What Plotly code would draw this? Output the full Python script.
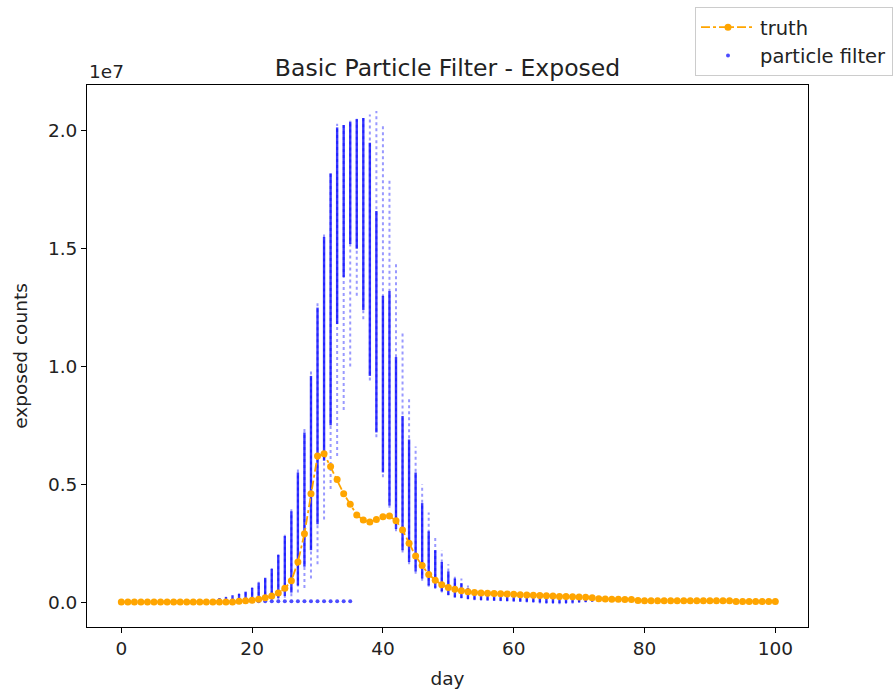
import plotly.graph_objects as go

# ---------------- data (values in units of 1e7) ----------------
truth_days = list(range(0, 101))
truth_vals = ([0.0] * 18 +
              [0.003, 0.005, 0.008, 0.012, 0.018, 0.026, 0.038, 0.058, 0.090, 0.170,
               0.290, 0.460, 0.620, 0.630, 0.575, 0.520, 0.460, 0.415, 0.370, 0.348,
               0.340, 0.350, 0.362, 0.365, 0.345, 0.306, 0.250, 0.195, 0.155, 0.117,
               0.093, 0.073, 0.062, 0.054, 0.048, 0.044, 0.040, 0.038, 0.037, 0.036,
               0.035, 0.034, 0.033, 0.031, 0.030, 0.029, 0.028, 0.027, 0.026, 0.024,
               0.023, 0.022, 0.021, 0.020, 0.018, 0.014, 0.013, 0.012, 0.012, 0.011,
               0.011, 0.006, 0.005, 0.005, 0.005, 0.005, 0.005, 0.005, 0.005, 0.005,
               0.005, 0.005, 0.005, 0.005, 0.005, 0.005, 0.002, 0.002, 0.002, 0.002,
               0.002, 0.002, 0.002])

# particle cloud per day: lowest particle, dense band low/high, highest particle
pf_days = list(range(13, 73))
pf_lo = [0.000, 0.000, 0.000, 0.000, 0.001, 0.001, 0.002, 0.003, 0.004, 0.006,
         0.008, 0.012, 0.018, 0.025, 0.040, 0.060, 0.100, 0.160, 0.350, 0.480,
         0.620, 0.815, 1.000, 1.300, 1.200, 0.940, 0.700, 0.530, 0.400, 0.300,
         0.210, 0.160, 0.120, 0.090, 0.065, 0.055, 0.040, 0.028, 0.018, 0.015,
         0.011, 0.008, 0.006, 0.005, 0.004, 0.003, 0.002, 0.001, 0.000, -0.002,
         -0.004, -0.006, -0.008, -0.008, -0.009, -0.008, -0.007, -0.004, -0.002, 0.000]
pf_dlo = [0.000, 0.001, 0.002, 0.003, 0.004, 0.005, 0.006, 0.007, 0.009, 0.011,
          0.014, 0.018, 0.026, 0.040, 0.070, 0.150, 0.220, 0.330, 0.600, 0.750,
          1.180, 1.380, 1.520, 1.500, 1.240, 0.960, 0.720, 0.550, 0.410, 0.310,
          0.220, 0.170, 0.130, 0.100, 0.070, 0.060, 0.045, 0.030, 0.020, 0.017,
          0.013, 0.010, 0.008, 0.007, 0.006, 0.005, 0.004, 0.003, 0.002, 0.001,
          0.000, -0.002, -0.004, -0.004, -0.005, -0.004, -0.003, -0.001, 0.000, 0.002]
pf_dhi = [0.008, 0.012, 0.017, 0.022, 0.028, 0.034, 0.044, 0.060, 0.082, 0.103,
          0.140, 0.200, 0.280, 0.385, 0.550, 0.720, 0.960, 1.250, 1.550, 1.820,
          2.015, 2.025, 2.040, 2.050, 2.055, 1.950, 1.660, 1.300, 1.320, 1.040,
          0.790, 0.690, 0.550, 0.420, 0.300, 0.220, 0.170, 0.130, 0.100, 0.080,
          0.060, 0.045, 0.035, 0.030, 0.028, 0.026, 0.025, 0.024, 0.023, 0.022,
          0.021, 0.020, 0.019, 0.018, 0.017, 0.016, 0.015, 0.014, 0.012, 0.010]
pf_hi = [0.010, 0.014, 0.020, 0.025, 0.030, 0.037, 0.047, 0.063, 0.086, 0.107,
         0.145, 0.210, 0.290, 0.400, 0.570, 0.740, 0.985, 1.270, 1.570, 1.830,
         2.030, 2.035, 2.045, 2.055, 2.060, 2.070, 2.085, 2.030, 1.790, 1.440,
         1.140, 0.870, 0.660, 0.500, 0.380, 0.285, 0.220, 0.160, 0.120, 0.100,
         0.070, 0.050, 0.040, 0.036, 0.034, 0.032, 0.031, 0.030, 0.028, 0.027,
         0.026, 0.025, 0.024, 0.023, 0.022, 0.021, 0.020, 0.018, 0.016, 0.014]

# particles collapsed near zero
stuck_days = list(range(14, 36))
stuck_vals = [0.003] * len(stuck_days)

# ---------------- figure ----------------
BLUE = "#0000ff"
ORANGE = "#ffa500"
TXT = "#222222"

def segs(days, a, b):
    xs, ys = [], []
    for d, lo, hi in zip(days, a, b):
        xs += [d, d, None]
        ys += [lo, hi, None]
    return xs, ys

fig = go.Figure()

sx, sy = segs(pf_days, pf_lo, pf_hi)
fig.add_trace(go.Scatter(x=sx, y=sy, mode="lines", showlegend=False,
                         line=dict(color="rgba(0,0,255,0.4)", width=2, dash="dot"),
                         hoverinfo="skip"))
dx, dy = segs(pf_days, pf_dlo, pf_dhi)
fig.add_trace(go.Scatter(x=dx, y=dy, mode="lines", showlegend=False,
                         line=dict(color="rgba(0,0,255,0.78)", width=2.4),
                         hoverinfo="skip"))
fig.add_trace(go.Scatter(x=stuck_days, y=stuck_vals, mode="markers",
                         name="particle filter", legendrank=2,
                         marker=dict(color=BLUE, size=4, opacity=0.7)))
fig.add_trace(go.Scatter(x=truth_days, y=truth_vals, mode="lines+markers",
                         name="truth", legendrank=1,
                         line=dict(color=ORANGE, width=1.8, dash="dashdot"),
                         marker=dict(color=ORANGE, size=7)))

axis_common = dict(showgrid=False, zeroline=False, showline=True, linecolor="black",
                   linewidth=1, mirror=True, ticks="outside", ticklen=5,
                   tickcolor="black", tickfont=dict(size=18.5, color=TXT))

fig.update_layout(
    width=896, height=692,
    margin=dict(l=87, r=88, t=85, b=65, autoexpand=False),
    paper_bgcolor="white", plot_bgcolor="white",
    font=dict(family="DejaVu Sans", color=TXT),
    title=dict(text="Basic Particle Filter - Exposed", x=(87 + 808) / 2 / 896,
               xanchor="center", y=1 - 68 / 692, yanchor="middle",
               font=dict(size=23.5, color=TXT)),
    xaxis=dict(range=[-5.25, 105], tickvals=[0, 20, 40, 60, 80, 100],
               title=dict(text="day", font=dict(size=18.5), standoff=13), **axis_common),
    yaxis=dict(range=[-0.106, 2.195], tickvals=[0.0, 0.5, 1.0, 1.5, 2.0],
               ticktext=["0.0", "0.5", "1.0", "1.5", "2.0"],
               title=dict(text="exposed counts", font=dict(size=18.5), standoff=15),
               **axis_common),
    legend=dict(x=(695 - 87) / 721, xanchor="left", y=(627 - 7) / 542, yanchor="top",
                bordercolor="#cccccc", borderwidth=1, bgcolor="white",
                font=dict(size=19.5, color=TXT), itemwidth=54,
                tracegroupgap=0),
    annotations=[dict(text="1e7", xref="paper", yref="paper", x=0, y=1,
                      xanchor="left", yanchor="bottom", yshift=1, showarrow=False,
                      font=dict(size=18.5, color=TXT))],
)

fig.write_html("out.html")
